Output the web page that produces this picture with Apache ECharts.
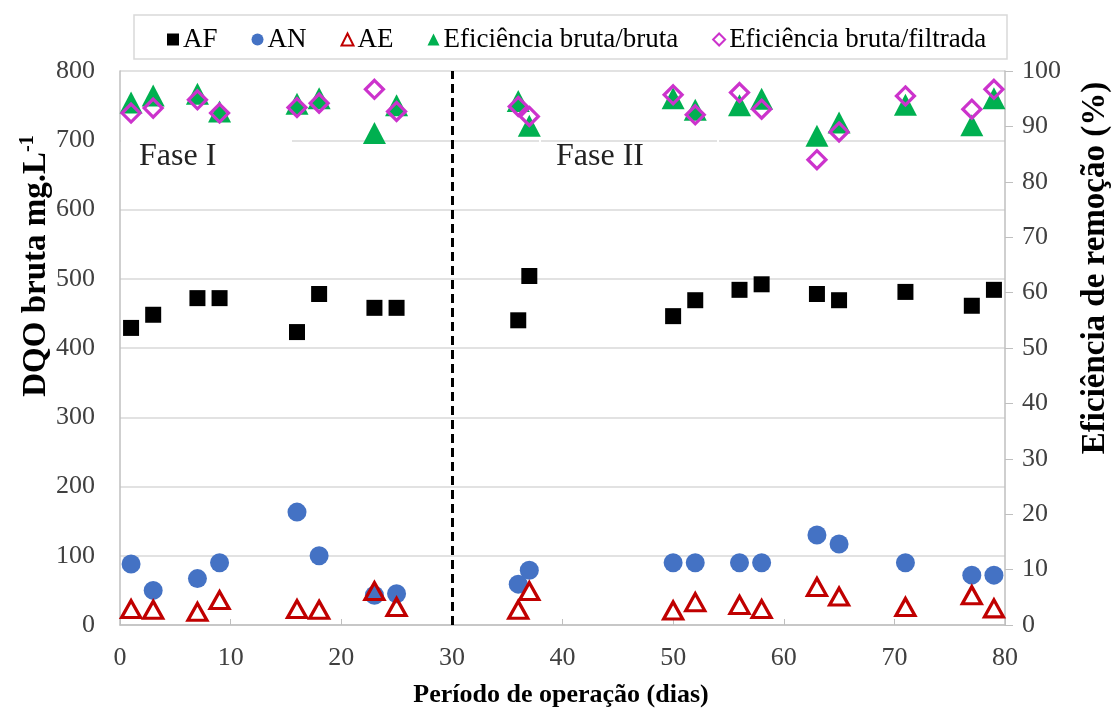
<!DOCTYPE html>
<html>
<head>
<meta charset="utf-8">
<script src="https://cdn.jsdelivr.net/npm/echarts@6/dist/echarts.min.js"></script>
<style>html,body{margin:0;padding:0;background:#fff}#c{width:1115px;height:708px}</style>
</head>
<body>
<div id="c"></div>
<script>
const days = [1,3,7,9,16,18,23,25,36,37,50,52,56,58,63,65,71,77,79];
const AF = [429,448,472,472,423,478,458,458,440,504,446,469,484,492,478,469,481,461,484];
const AN = [88,50,67,90,163,100,43,45,59,79,90,90,90,90,130,117,90,72,72];
const AE = [23,22,19,36,23,22,49,26,22,49,21,33,29,23,55,41,26,43,24];
const effBrutaBruta = [94.3,95.6,95.9,92.7,94.1,95.1,88.8,93.8,94.6,90.1,95.1,93.0,93.8,95.0,88.3,90.7,93.9,90.2,95.1];
const effBrutaFiltrada = [92.4,93.3,94.8,92.4,93.4,94.2,96.7,92.7,93.6,91.8,95.7,92.1,96.1,93.1,84.0,89.0,95.5,93.1,96.7];
const xTicks = [0,10,20,30,40,50,60,70,80];
const leftTicks = [0,100,200,300,400,500,600,700,800];
const rightTicks = [0,10,20,30,40,50,60,70,80,90,100];
const phaseBoundary = 30;

const pair = (ys) => days.map((d,i)=>[d, ys[i]]);
const FONT = '"Liberation Serif","Times New Roman",serif';

const chart = echarts.init(document.getElementById('c'), null, {renderer:'canvas'});
chart.setOption({
  animation:false,
  backgroundColor:'#fff',
  textStyle:{fontFamily:FONT},
  grid:{left:120,right:110,top:71,bottom:83,containLabel:false},
  legend:{
    left:162, top:21, itemGap:34, itemWidth:12, itemHeight:12,
    textStyle:{fontFamily:FONT,fontSize:27,color:'#000',padding:[0,0,0,-1]},
    data:['AF','AN','AE','Eficiência bruta/bruta','Eficiência bruta/filtrada']
  },
  xAxis:{
    type:'value', min:xTicks[0], max:xTicks[xTicks.length-1], interval:10,
    axisLine:{lineStyle:{color:'#bfbfbf',width:1.5}},
    axisTick:{show:true,inside:true,length:6,lineStyle:{color:'#bfbfbf'}},
    axisLabel:{fontFamily:FONT,fontSize:26,color:'#404040',margin:20},
    splitLine:{show:false}
  },
  yAxis:[{
    type:'value', min:leftTicks[0], max:leftTicks[leftTicks.length-1], interval:100, position:'left',
    axisLine:{show:true,lineStyle:{color:'#bfbfbf',width:1.5}},
    axisTick:{show:false},
    axisLabel:{fontFamily:FONT,fontSize:26,color:'#404040',margin:25},
    splitLine:{show:true,lineStyle:{color:'#d9d9d9',width:1.5}}
  },{
    type:'value', min:rightTicks[0], max:rightTicks[rightTicks.length-1], interval:10, position:'right',
    axisLine:{show:true,lineStyle:{color:'#bfbfbf',width:1.5}},
    axisTick:{show:true,inside:false,length:8,lineStyle:{color:'#bfbfbf'}},
    axisLabel:{fontFamily:FONT,fontSize:26,color:'#404040',margin:17},
    splitLine:{show:false}
  }],
  graphic:[
    {type:'rect',z:100,shape:{x:134,y:15,width:873,height:44},style:{fill:'none',stroke:'#d9d9d9',lineWidth:1.5}},
    {type:'rect',z:50,shape:{x:121,y:137,width:171,height:6},style:{fill:'#fff'}},
    {type:'rect',z:50,shape:{x:539,y:137,width:2,height:6},style:{fill:'#fff'}},
    {type:'rect',z:50,shape:{x:717,y:137,width:2,height:6},style:{fill:'#fff'}},
    {type:'text',z:100,x:139,y:157,style:{text:'Fase I',font:'32px '+FONT,fill:'#222',verticalAlign:'middle',textVerticalAlign:'middle'}},
    {type:'text',z:100,x:556,y:157,style:{text:'Fase II',font:'32px '+FONT,fill:'#222',verticalAlign:'middle',textVerticalAlign:'middle'}},
    {type:'text',z:100,x:36,y:266,rotation:Math.PI/2,style:{
      text:'{a|DQO bruta mg.L}{s|-1}',align:'center',verticalAlign:'middle',textAlign:'center',textVerticalAlign:'middle',
      rich:{a:{font:'bold 33px '+FONT,fill:'#000',lineHeight:36},s:{font:'bold 20px '+FONT,fill:'#000',lineHeight:36,verticalAlign:'top'}}
    }},
    {type:'text',z:100,x:1095,y:268,rotation:Math.PI/2,style:{
      text:'Eficiência de remoção (%)',font:'bold 33px '+FONT,fill:'#000',align:'center',verticalAlign:'middle',textAlign:'center',textVerticalAlign:'middle'
    }},
    {type:'text',z:100,x:561,y:695,style:{
      text:'Período de operação (dias)',font:'bold 26px '+FONT,fill:'#000',align:'center',verticalAlign:'middle',textAlign:'center',textVerticalAlign:'middle'
    }}
  ],
  series:[
    {name:'AF',type:'scatter',yAxisIndex:0,symbol:'rect',symbolSize:16,
     itemStyle:{color:'#000',opacity:1},data:pair(AF),z:2,
     markLine:{silent:true,symbol:'none',label:{show:false},animation:false,
       lineStyle:{color:'#000',type:[9,5],width:3,opacity:1},data:[{xAxis:phaseBoundary}]}},
    {name:'AN',type:'scatter',yAxisIndex:0,symbol:'circle',symbolSize:19,
     itemStyle:{color:'#4472c4',opacity:1},data:pair(AN),z:3},
    {name:'AE',type:'scatter',yAxisIndex:0,symbol:'triangle',symbolSize:[19,17],
     itemStyle:{color:'rgba(255,255,255,0)',borderColor:'#c00000',borderWidth:3.2,opacity:1},data:pair(AE),z:4},
    {name:'Eficiência bruta/bruta',type:'scatter',yAxisIndex:1,symbol:'triangle',symbolSize:[23,22],
     itemStyle:{color:'#00b050',opacity:1},data:pair(effBrutaBruta),z:5},
    {name:'Eficiência bruta/filtrada',type:'scatter',yAxisIndex:1,symbol:'diamond',symbolSize:18,
     itemStyle:{color:'rgba(255,255,255,0)',borderColor:'#cc33cc',borderWidth:3.2,opacity:1},data:pair(effBrutaFiltrada),z:6}
  ]
});
</script>
</body>
</html>
